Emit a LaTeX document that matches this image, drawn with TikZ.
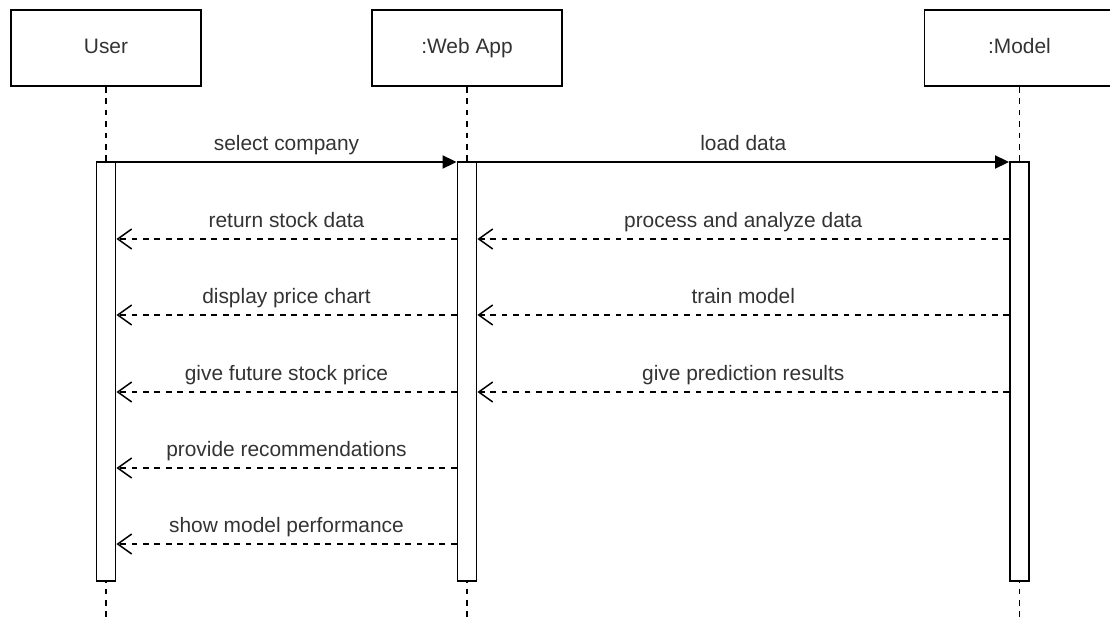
\documentclass[tikz,border=0pt]{standalone}
\usepackage{fontspec}
\setmainfont{Liberation Sans}
\usetikzlibrary{arrows.meta}

\begin{document}
\begin{tikzpicture}[x=1pt,y=-1pt,line width=1.9pt]
\tikzstyle{actor}=[draw,rectangle,fill=white,minimum width=190pt,minimum height=76pt,inner sep=0,text height=15pt,text depth=4.5pt,text=black!80,font=\fontsize{20.9}{25}\selectfont]
\tikzstyle{bar}=[draw,rectangle,fill=white,minimum width=19pt,minimum height=419pt,inner sep=0]
\tikzstyle{life}=[dash pattern=on 5.7pt off 5.7pt]
\tikzstyle{call}=[-{Triangle[length=14pt,width=13pt]}]
\tikzstyle{reply}=[dash pattern=on 5.7pt off 5.7pt,-{Straight Barb[length=14pt,width=20pt,line width=1.5pt]}]
\tikzstyle{msg}=[inner sep=0,text depth=4.5pt,above=6.5pt,text=black!80,font=\fontsize{20.9}{25}\selectfont]
\useasboundingbox (0,0) rectangle (1110,617);
% lifelines
\node[actor] (user) at (106,48) {User};
\node[actor] (web) at (467,48) {:Web App};
\node[actor] (model) at (1019.5,48) {:Model};
\coordinate (userend) at (106,617);
\coordinate (webend) at (467,617);
\coordinate (modelend) at (1019.5,617);
\draw[life] (user) -- (userend);
\draw[life] (web) -- (webend);
\draw[life] (model) -- (modelend);
\node[bar] (userbar) at (106,371.5) {};
\node[bar] (webbar) at (467,371.5) {};
\node[bar] (modelbar) at (1019.5,371.5) {};
% message rows
\coordinate (m1) at (0,162);
\coordinate (m2) at (0,239);
\coordinate (m3) at (0,315);
\coordinate (m4) at (0,392);
\coordinate (m5) at (0,468);
\coordinate (m6) at (0,544);
\draw[call] (userbar.east |- m1) -- node[msg] {select company} (webbar.west |- m1);
\draw[call] (webbar.east |- m1) -- node[msg] {load data} (modelbar.west |- m1);
\draw[reply] (webbar.west |- m2) -- node[msg] {return stock data} (userbar.east |- m2);
\draw[reply] (modelbar.west |- m2) -- node[msg] {process and analyze data} (webbar.east |- m2);
\draw[reply] (webbar.west |- m3) -- node[msg] {display price chart} (userbar.east |- m3);
\draw[reply] (modelbar.west |- m3) -- node[msg] {train model} (webbar.east |- m3);
\draw[reply] (webbar.west |- m4) -- node[msg] {give future stock price} (userbar.east |- m4);
\draw[reply] (modelbar.west |- m4) -- node[msg] {give prediction results} (webbar.east |- m4);
\draw[reply] (webbar.west |- m5) -- node[msg] {provide recommendations} (userbar.east |- m5);
\draw[reply] (webbar.west |- m6) -- node[msg] {show model performance} (userbar.east |- m6);
\end{tikzpicture}
\end{document}
